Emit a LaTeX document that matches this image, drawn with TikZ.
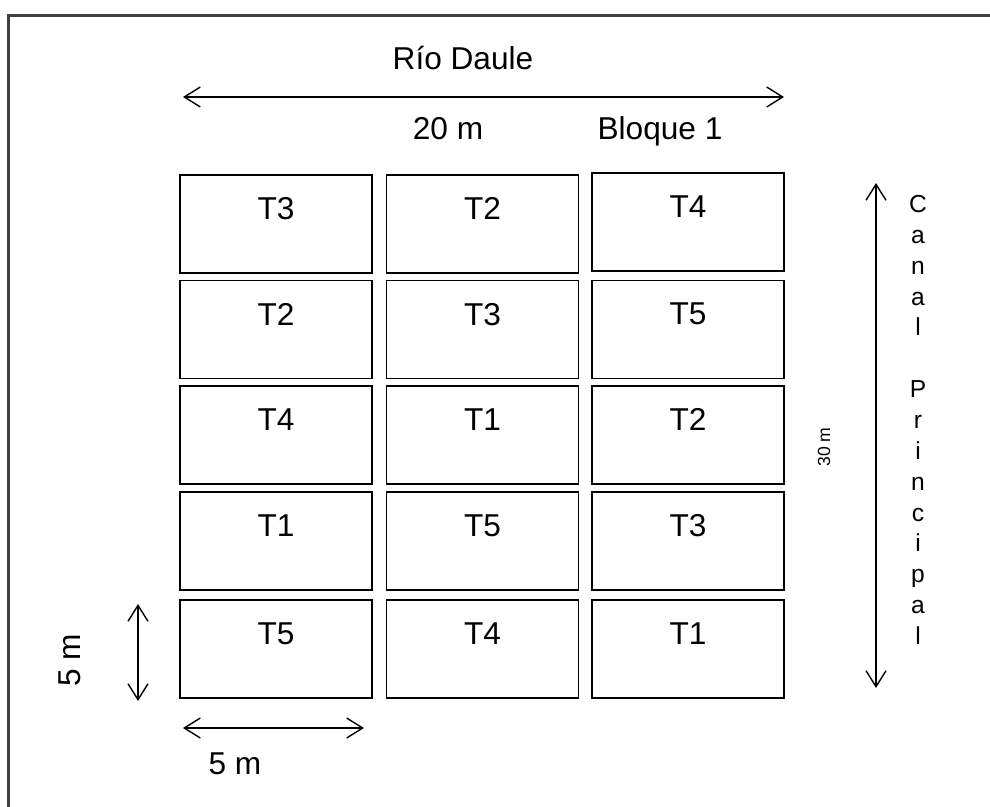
\documentclass[tikz,border=0pt]{standalone}
\usepackage{fontspec}
\setmainfont{Liberation Sans}
\usetikzlibrary{arrows.meta}
\begin{document}
\begin{tikzpicture}[x=0.02cm,y=-0.02cm,
  parcela/.style={draw, line width=0.7pt, minimum width=3.84cm, minimum height=1.96cm, inner sep=0pt,
    label={[anchor=north, inner sep=0pt, yshift=-0.46cm, font=\fontsize{18}{21}\selectfont]north:#1}},
  cota/.style={line width=0.8pt, {Straight Barb[length=3.2mm,width=4mm]}-{Straight Barb[length=3.2mm,width=4mm]}},
  texto/.style={font=\fontsize{18}{21}\selectfont, inner sep=0pt}]
\useasboundingbox (0,0) rectangle (990,807);
\coordinate (marcoA) at (8.5,807);
\coordinate (marcoB) at (990,15.5);
\draw[line width=1.2pt, gray!50!black] (marcoA) |- (marcoB);
\node[parcela=T3] (p11) at (276,224) {};
\node[parcela=T2] (p12) at (482.5,224) {};
\node[parcela=T4] (p13) at (688,222) {};
\node[parcela=T2] (p21) at (276,329.5) {};
\node[parcela=T3] (p22) at (482.5,329.5) {};
\node[parcela=T5] (p23) at (688,329.5) {};
\node[parcela=T4] (p31) at (276,435) {};
\node[parcela=T1] (p32) at (482.5,435) {};
\node[parcela=T2] (p33) at (688,435) {};
\node[parcela=T1] (p41) at (276,541) {};
\node[parcela=T5] (p42) at (482.5,541) {};
\node[parcela=T3] (p43) at (688,541) {};
\node[parcela=T5] (p51) at (276,649) {};
\node[parcela=T4] (p52) at (482.5,649) {};
\node[parcela=T1] (p53) at (688,649) {};
% cotas
\coordinate (rioI) at (183,97);
\coordinate (rioD) at (784,97);
\draw[cota] (rioI) -- (rioD);
\coordinate (canalA) at (876,183);
\coordinate (canalB) at (876,688);
\draw[cota] (canalA) -- (canalB);
\coordinate (altoA) at (138,604);
\coordinate (altoB) at (138,701);
\draw[cota] (altoA) -- (altoB);
\coordinate (anchoI) at (183,728);
\coordinate (anchoD) at (364,728);
\draw[cota] (anchoI) -- (anchoD);
% textos
\node[texto, anchor=base] (rio) at (463,70) {Río Daule};
\node[texto, anchor=base] (largo) at (448,140) {20 m};
\node[texto, anchor=base] (bloque) at (660,140) {Bloque 1};
\node[texto, rotate=90] (alto) at (70,660) {5 m};
\node[texto] (ancho) at (235,764) {5 m};
\node[inner sep=0pt, rotate=90, font=\fontsize{10}{12}\selectfont] (largocanal) at (824,447) {30 m};
\node[inner sep=0pt, anchor=north, align=center, font=\fontsize{14}{17.56}\selectfont] (canal) at (918,195)
  {C\\a\\n\\a\\l\\~\\P\\r\\i\\n\\c\\i\\p\\a\\l};
\end{tikzpicture}
\end{document}
